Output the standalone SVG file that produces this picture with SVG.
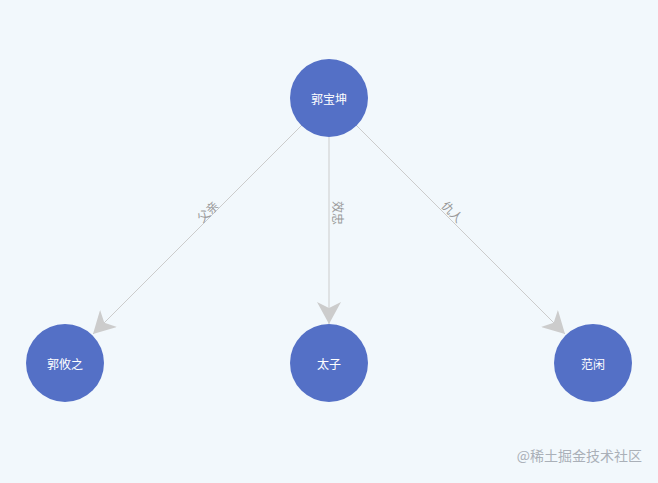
<svg xmlns="http://www.w3.org/2000/svg" width="658" height="483" viewBox="0 0 658 483">
<style>
.n{fill:#5470c6}
.t{font-family:"Noto Sans CJK SC","Liberation Sans",sans-serif;font-size:12px;fill:#fff;text-anchor:middle;dominant-baseline:central}
.e{stroke:#cccccc;stroke-width:1;fill:none;marker-end:url(#a)}
.l{font-family:"Noto Sans CJK SC","Liberation Sans",sans-serif;font-size:12px;fill:#999;text-anchor:middle;dominant-baseline:central}
</style>
<defs>
<marker id="a" markerUnits="userSpaceOnUse" markerWidth="24" markerHeight="24" viewBox="0 0 24 24" refX="22" refY="12" orient="auto">
<path d="M0,0 L22,12 L0,24 L6,12 Z" fill="#cccccc"/>
</marker>
</defs>
<rect width="658" height="483" fill="#f2f8fc"/>
<g id="edges">
<line class="e" x1="302" y1="125" x2="93" y2="334"/>
<line class="e" x1="329" y1="137" x2="329" y2="324"/>
<line class="e" x1="356" y1="125" x2="565" y2="334"/>
<text class="l" transform="translate(207,211) rotate(-45)">父亲</text>
<text class="l" transform="translate(338,213) rotate(90)">效忠</text>
<text class="l" transform="translate(453,211) rotate(45)">仇人</text>
</g>
<g id="n1"><circle class="n" cx="329" cy="98" r="39"/><text class="t" x="329" y="98">郭宝坤</text></g>
<g id="n2"><circle class="n" cx="65" cy="363" r="39"/><text class="t" x="65" y="363">郭攸之</text></g>
<g id="n3"><circle class="n" cx="329" cy="363" r="39"/><text class="t" x="329" y="363">太子</text></g>
<g id="n4"><circle class="n" cx="593" cy="363" r="39"/><text class="t" x="593" y="363">范闲</text></g>
<text x="642" y="461" font-family="Noto Sans CJK SC,sans-serif" font-size="14" fill="#aab0b8" text-anchor="end">@稀土掘金技术社区</text>
</svg>
